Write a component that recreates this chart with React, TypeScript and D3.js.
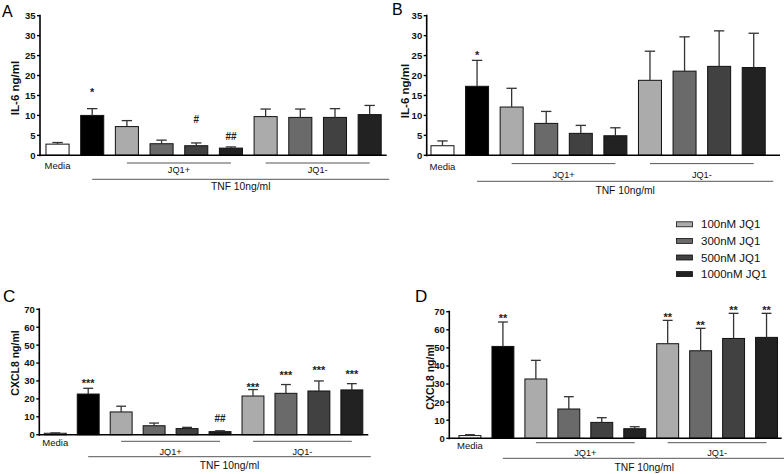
import React from "react";
import * as d3 from "d3";

const categories = ["Media", "TNF", "100nM JQ1+", "300nM JQ1+", "500nM JQ1+", "1000nM JQ1+", "100nM JQ1-", "300nM JQ1-", "500nM JQ1-", "1000nM JQ1-"];
const legendLabels = ["100nM JQ1", "300nM JQ1", "500nM JQ1", "1000nM JQ1"];

const meansA = [2.8, 10.0, 7.2, 2.9, 2.4, 1.8, 9.7, 9.5, 9.5, 10.2];
const errA = [0.4, 1.7, 1.5, 0.9, 0.7, 0.3, 1.9, 2.1, 2.2, 2.3];
const marksA = [{ i: 1, t: "*", v: 16.5 }, { i: 4, t: "#", v: 9.0 }, { i: 5, t: "##", v: 4.7 }];

const meansB = [2.4, 17.3, 12.1, 8.0, 5.5, 4.9, 18.8, 21.1, 22.3, 22.0];
const errB = [1.2, 6.5, 4.7, 3.0, 2.0, 2.0, 7.3, 8.6, 8.9, 8.6];
const marksB = [{ i: 1, t: "*", v: 25.7 }];

const meansC = [0.8, 22.7, 12.7, 5.0, 3.4, 1.7, 21.6, 23.1, 24.4, 25.0];
const errC = [0.2, 3.2, 3.2, 1.5, 0.7, 0.5, 3.6, 4.9, 5.6, 3.5];
const marksC = [
  { i: 1, t: "***", v: 30.2 }, { i: 5, t: "##", v: 8.9 }, { i: 6, t: "***", v: 28.3 },
  { i: 7, t: "***", v: 34.5 }, { i: 8, t: "***", v: 37.7 }, { i: 9, t: "***", v: 35.2 },
];

const meansD = [1.5, 50.8, 32.8, 16.2, 8.8, 5.3, 52.3, 48.4, 55.2, 55.8];
const errD = [0.5, 13.5, 10.3, 6.8, 2.6, 1.1, 12.9, 12.4, 13.9, 13.3];
const marksD = [
  { i: 1, t: "**", v: 67.7 }, { i: 6, t: "**", v: 68.7 }, { i: 7, t: "**", v: 64.3 },
  { i: 8, t: "**", v: 72.4 }, { i: 9, t: "**", v: 72.4 },
];

const barColors = ["#ffffff", "#000000", "#ababab", "#6a6a6a", "#414141", "#222222", "#ababab", "#6a6a6a", "#414141", "#222222"];
const FONT = "'Liberation Sans', Arial, Helvetica, sans-serif";

type Mark = { i: number; t: string; v: number };
type PanelProps = {
  letter: string; lx: number; ly: number; lfs: number;
  ylabel: string; ylx: number; yly: number; ylfs: number;
  means: number[]; errs: number[]; marks: Mark[];
  yMax: number; yStep: number;
  y0: number; yTop: number;
  axisX: number; axisEnd: number;
  r0: number; r1: number;
  mediaDy: number; jqLineDy: number; jqTextDy: number; tnfLineDy: number; tnfTextDy: number;
};

function Panel(p: PanelProps) {
  const x = d3.scaleBand<string>().domain(categories).range([p.r0, p.r1]).paddingInner(0.335).paddingOuter(0.17);
  const y = d3.scaleLinear().domain([0, p.yMax]).range([p.y0, p.yTop]);
  const ticks = d3.range(0, p.yMax + 0.001, p.yStep);
  const bw = x.bandwidth();
  const cx = (i: number) => (x(categories[i]) as number) + bw / 2;
  const capW = bw * 0.45;
  const jqPlus: [number, number] = [cx(2), cx(5)];
  const jqMinus: [number, number] = [cx(6), cx(9)];
  const tnf: [number, number] = [cx(1), (x(categories[9]) as number) + bw + 8];
  const lineColor = "#555";
  return (
    <g fontFamily={FONT}>
      <text x={p.lx} y={p.ly} fontSize={p.lfs} fill="#000">{p.letter}</text>
      <text transform={`translate(${p.ylx},${p.yly}) rotate(-90)`} textAnchor="middle" dominantBaseline="central" fontSize={p.ylfs} fontWeight="bold" fill="#111">{p.ylabel}</text>
      {categories.map((c, i) => (
        <rect key={c} x={x(c)} y={y(p.means[i])} width={bw} height={p.y0 - y(p.means[i])} fill={barColors[i]} stroke="#111" strokeWidth={1} />
      ))}
      {categories.map((c, i) => {
        const top = y(p.means[i] + p.errs[i]);
        return (
          <g key={"e" + c} stroke="#333" strokeWidth={1.3}>
            <line x1={cx(i)} x2={cx(i)} y1={y(p.means[i])} y2={top} />
            <line x1={cx(i) - capW / 2} x2={cx(i) + capW / 2} y1={top} y2={top} />
          </g>
        );
      })}
      {p.marks.map((m, k) => (
        <text key={"m" + k} x={cx(m.i)} y={y(m.v) + (m.t.startsWith("*") ? 6.5 : 3.5)} textAnchor="middle" fontSize={m.t.startsWith("*") ? 11 : 10} fontWeight="bold" fill="#222">{m.t}</text>
      ))}
      <line x1={p.axisX} x2={p.axisX} y1={p.yTop - 1} y2={p.y0 + 1} stroke="#000" strokeWidth={1.6} />
      <line x1={p.axisX} x2={p.axisEnd} y1={p.y0} y2={p.y0} stroke="#000" strokeWidth={1.6} />
      {ticks.map((t) => (
        <g key={"t" + t}>
          <line x1={p.axisX - 3} x2={p.axisX} y1={y(t)} y2={y(t)} stroke="#000" strokeWidth={1.4} />
          <text x={p.axisX - 4.5} y={y(t)} dy="0.36em" textAnchor="end" fontSize={9.5} fontWeight="bold" fill="#111">{t}</text>
        </g>
      ))}
      <text x={cx(0)} y={p.y0 + p.mediaDy} textAnchor="middle" fontSize={9.5} fill="#111">Media</text>
      <line x1={jqPlus[0]} x2={jqPlus[1]} y1={p.y0 + p.jqLineDy} y2={p.y0 + p.jqLineDy} stroke={lineColor} strokeWidth={1} />
      <line x1={jqMinus[0]} x2={jqMinus[1]} y1={p.y0 + p.jqLineDy} y2={p.y0 + p.jqLineDy} stroke={lineColor} strokeWidth={1} />
      <text x={(jqPlus[0] + jqPlus[1]) / 2} y={p.y0 + p.jqTextDy} textAnchor="middle" fontSize={9.2} fill="#111">JQ1+</text>
      <text x={(jqMinus[0] + jqMinus[1]) / 2} y={p.y0 + p.jqTextDy} textAnchor="middle" fontSize={9.2} fill="#111">JQ1-</text>
      <line x1={tnf[0]} x2={tnf[1]} y1={p.y0 + p.tnfLineDy} y2={p.y0 + p.tnfLineDy} stroke={lineColor} strokeWidth={1} />
      <text x={(tnf[0] + tnf[1]) / 2} y={p.y0 + p.tnfTextDy} textAnchor="middle" fontSize={10.3} fill="#111">TNF 10ng/ml</text>
    </g>
  );
}

export default function App() {
  return (
    <svg width={784} height={474} style={{ position: "absolute", left: 0, top: 0, background: "#fff" }}>
      <rect width={784} height={474} fill="#fff" />
      <Panel letter="A" lx={2} ly={16.5} lfs={16} ylabel="IL-6 ng/ml" ylx={15} yly={88} ylfs={11.5}
        means={meansA} errs={errA} marks={marksA} yMax={35} yStep={5} y0={155.3} yTop={15.7}
        axisX={40} axisEnd={386.7} r0={40.1} r1={387.1}
        mediaDy={13.5} jqLineDy={7.7} jqTextDy={17.5} tnfLineDy={24} tnfTextDy={34.5} />
      <Panel letter="B" lx={392} ly={15} lfs={16} ylabel="IL-6 ng/ml" ylx={405} yly={91} ylfs={11.5}
        means={meansB} errs={errB} marks={marksB} yMax={35} yStep={5} y0={155.3} yTop={15.7}
        axisX={426.7} axisEnd={780} r0={425.1} r1={771.1}
        mediaDy={14.5} jqLineDy={8.3} jqTextDy={22.5} tnfLineDy={26} tnfTextDy={39} />
      <Panel letter="C" lx={3} ly={302} lfs={17} ylabel="CXCL8 ng/ml" ylx={15} yly={363} ylfs={10.5}
        means={meansC} errs={errC} marks={marksC} yMax={70} yStep={10} y0={434.7} yTop={309.3}
        axisX={39.3} axisEnd={368.3} r0={38.7} r1={368.4}
        mediaDy={11.5} jqLineDy={6.6} jqTextDy={20} tnfLineDy={22} tnfTextDy={34.5} />
      <Panel letter="D" lx={415} ly={302} lfs={17} ylabel="CXCL8 ng/ml" ylx={430} yly={377} ylfs={10.5}
        means={meansD} errs={errD} marks={marksD} yMax={70} yStep={10} y0={438.3} yTop={311.7}
        axisX={449.3} axisEnd={781.7} r0={453.4} r1={783.1}
        mediaDy={10.5} jqLineDy={4.4} jqTextDy={18} tnfLineDy={20} tnfTextDy={33} />
      <g fontFamily={FONT}>
        {legendLabels.map((l, i) => (
          <g key={l}>
            <rect x={676.5} y={221.8 + i * 16.6} width={16} height={5} fill={barColors[i + 2]} stroke="#111" strokeWidth={0.8} />
            <text x={701} y={224.3 + i * 16.6} dy="0.36em" fontSize={11.5} fill="#111">{l}</text>
          </g>
        ))}
      </g>
    </svg>
  );
}
